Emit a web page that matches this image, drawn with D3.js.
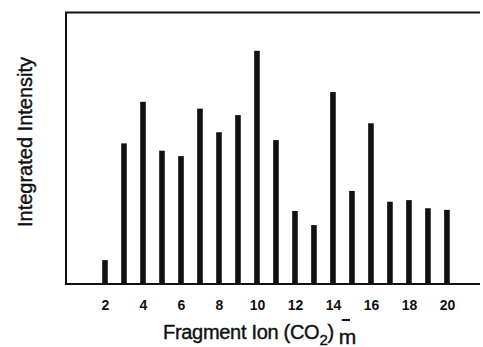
<!DOCTYPE html>
<html>
<head>
<meta charset="utf-8">
<script src="https://cdn.jsdelivr.net/npm/d3@7"></script>
<style>
    body { margin: 0; background: #fff; }
    svg { display: block; }
    text { font-family: "Liberation Sans", Arial, sans-serif; fill: #111; }
    .title { stroke: #111; stroke-width: 0.4; }
</style>
</head>
<body>
<div id="chart"></div>
<script>
// fragment ion number m and integrated intensity (arbitrary units)
var fragments = [2, 3, 4, 5, 6, 7, 8, 9, 10, 11, 12, 13, 14, 15, 16, 17, 18, 19, 20];
var intensity = [8.8, 51.8, 67.1, 49.1, 47.1, 64.6, 55.9, 62.2, 85.9, 53.0, 26.9, 21.7, 70.7, 34.3, 59.2, 30.3, 30.9, 27.9, 27.3];
var tickValues = [2, 4, 6, 8, 10, 12, 14, 16, 18, 20];

var width = 483, height = 347;
var frame = {left: 66, top: 12.5, right: 480, bottom: 284};

var svg = d3.select('#chart').append('svg')
        .attr('width', width)
        .attr('height', height);

var x = d3.scaleLinear().domain([0, 21.74]).range([67, 480]);
var y = d3.scaleLinear().domain([0, 100]).range([frame.bottom, frame.top]);

// bars
svg.append('g').selectAll('rect')
    .data(fragments)
    .enter()
    .append('rect')
    .attr('x', function(d) { return x(d) - 2.8; })
    .attr('width', 5.6)
    .attr('y', function(d, i) { return y(intensity[i]); })
    .attr('height', function(d, i) { return y(0) - y(intensity[i]); })
    .attr('fill', '#111');

// frame: left, top and bottom only
svg.append('path')
    .attr('d', 'M' + frame.right + ',' + frame.top + 'H' + frame.left + 'V' + frame.bottom + 'H' + frame.right)
    .attr('fill', 'none')
    .attr('stroke', '#111')
    .attr('stroke-width', 2);

// x axis labels
var xAxis = d3.axisBottom(x).tickValues(tickValues).tickSize(0).tickPadding(0);
var gx = svg.append('g')
    .attr('transform', 'translate(0,' + frame.bottom + ')')
    .call(xAxis);
gx.select('.domain').remove();
gx.selectAll('text')
    .attr('y', 26)
    .attr('dy', null)
    .style('font-size', '14px')
    .style('font-weight', 'bold');

// x title with subscripts
var title = svg.append('text')
    .attr('class', 'title')
    .attr('x', 163)
    .attr('y', 339)
    .style('font-size', '20px')
    .style('letter-spacing', '-0.3px');
title.append('tspan').text('Fragment Ion (CO');
title.append('tspan').attr('y', 345).style('font-size', '15px').text('2');
title.append('tspan').attr('y', 339).text(')');
title.append('tspan').attr('dx', 5).attr('y', 344).style('font-size', '21px').text('m');

// minus bar above the m
var n = title.node().getNumberOfChars();
var mStart = title.node().getStartPositionOfChar(n - 1).x;
var mEnd = title.node().getEndPositionOfChar(n - 1).x;
svg.append('line')
    .attr('x1', mStart + 3)
    .attr('x2', mEnd - 6)
    .attr('y1', 320)
    .attr('y2', 320)
    .attr('stroke', '#111')
    .attr('stroke-width', 2);

// y title
svg.append('text')
    .attr('class', 'title')
    .attr('transform', 'translate(32,142) rotate(-90)')
    .attr('text-anchor', 'middle')
    .style('font-size', '20px')
    .text('Integrated Intensity');
</script>
</body>
</html>
